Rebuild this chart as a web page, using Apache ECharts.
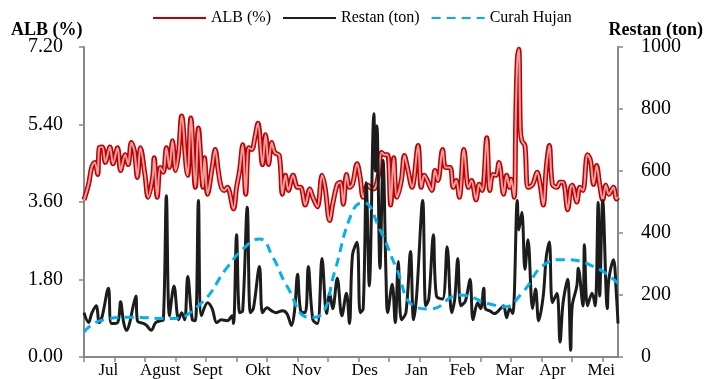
<!DOCTYPE html>
<html><head><meta charset="utf-8">
<script src="https://cdn.jsdelivr.net/npm/echarts@6/dist/echarts.min.js"></script>
<style>html,body{margin:0;padding:0;background:#fff}#c{width:706px;height:379px}</style>
</head><body><div id="c"></div>
<script>
// x = day index (0..350)
const monthLabels = ['Jul','Agust','Sept','Okt','Nov','Des','Jan','Feb','Mar','Apr','Mei'];
const monthLabelDays = [16,50,81,114,146,184,218,248,279,307,339];
const tickDays = [0,20,40,60,80,100,120,140,160,180,200,220,240,260,280,300,320,340];

const albData = [[0,3.65],[3,4.01],[5,4.40],[7,4.52],[9,4.24],[10,4.86],[12,4.88],[14,4.52],[17,4.88],[19,4.49],[22,4.86],[24,4.33],[27,4.70],[29,4.47],[31,4.98],[33,4.79],[35,4.17],[37,4.86],[40,4.22],[42,3.71],[45,4.17],[46,4.63],[48,3.71],[50,4.40],[52,4.29],[54,4.86],[56,4.40],[58,5.02],[60,4.33],[62,4.75],[64,5.60],[67,4.40],[68,4.22],[70,5.55],[73,3.94],[75,5.32],[78,3.94],[79,4.63],[81,3.78],[84,4.40],[86,4.82],[88,4.33],[90,3.94],[92,3.87],[94,3.94],[98,3.44],[100,3.94],[102,4.33],[104,4.93],[106,3.78],[108,4.86],[110,4.82],[112,5.09],[114,5.43],[117,4.47],[119,5.16],[121,4.47],[123,4.98],[125,4.75],[128,4.68],[130,3.78],[132,4.22],[134,3.87],[137,4.22],[140,3.94],[142,3.94],[145,3.53],[148,3.90],[150,3.71],[153,3.49],[156,4.22],[158,3.94],[161,3.17],[163,3.55],[166,4.01],[168,4.06],[170,3.55],[172,4.24],[174,3.94],[176,4.01],[179,4.49],[181,4.17],[183,3.71],[186,3.99],[189,3.90],[191,3.94],[193,4.24],[195,4.75],[197,4.70],[199,4.70],[201,3.53],[203,4.63],[205,3.71],[208,4.10],[210,4.68],[212,4.40],[215,3.94],[219,4.91],[221,3.94],[223,4.22],[225,4.10],[228,3.87],[230,4.33],[232,4.10],[235,4.82],[237,4.40],[240,4.40],[242,3.94],[244,4.10],[246,3.71],[249,4.82],[252,3.94],[254,4.10],[257,3.65],[259,4.01],[261,3.87],[264,5.09],[266,3.87],[268,4.24],[270,4.22],[272,4.52],[275,3.78],[277,4.22],[279,3.94],[280,4.13],[282,3.71],[283,5.6],[284,6.9],[285,7.15],[286,5.3],[287,5.02],[289,4.91],[291,3.94],[294,4.00],[297,4.29],[299,4.00],[301,3.53],[303,4.40],[305,4.91],[307,4.01],[310,3.94],[312,4.06],[314,4.06],[317,3.42],[319,3.94],[320,3.99],[323,3.60],[325,3.94],[327,3.87],[330,4.70],[332,4.56],[334,4.01],[336,4.45],[338,4.00],[340,3.65],[342,3.99],[344,3.78],[347,3.94],[349,3.67],[350,3.71]];

const restanData = [[0,143],[3,111],[5,140],[8,165],[10,111],[12,133],[16,222],[18,108],[22,111],[24,178],[26,111],[28,86],[30,111],[32,159],[34,197],[35,117],[39,108],[41,102],[44,86],[47,111],[50,117],[52,120],[54,520],[56,133],[59,229],[62,120],[64,143],[66,120],[68,260],[71,120],[73,117],[75,505],[77,133],[81,175],[84,156],[87,111],[90,120],[94,117],[97,133],[98,108],[100,394],[102,143],[104,149],[107,483],[109,143],[111,156],[115,292],[117,143],[120,159],[123,149],[126,143],[130,149],[133,140],[136,102],[138,149],[140,267],[142,149],[145,143],[147,292],[150,120],[153,108],[156,318],[159,140],[161,206],[163,156],[166,254],[169,133],[172,206],[174,108],[176,330],[179,370],[181,143],[183,156],[185,562],[187,229],[190,785],[191,600],[192,746],[194,286],[196,635],[198,250],[199,143],[202,235],[204,111],[206,308],[208,120],[211,143],[214,340],[216,120],[218,197],[222,505],[224,165],[226,187],[229,394],[231,197],[235,187],[238,356],[241,143],[243,187],[245,318],[247,165],[250,181],[253,251],[255,120],[258,175],[260,156],[262,222],[263,156],[266,149],[269,140],[273,156],[275,165],[277,127],[279,156],[281,140],[284,505],[285,410],[287,467],[289,283],[291,378],[294,156],[296,219],[298,117],[301,197],[303,324],[305,371],[307,175],[310,206],[312,48],[314,175],[317,251],[319,22],[320,165],[323,229],[324,286],[327,165],[328,362],[330,165],[333,206],[335,165],[337,498],[338,197],[340,505],[343,156],[344,251],[347,314],[349,197],[350,108]];

const rainData = [[0,80],[10,116],[30,128],[56,124],[76,170],[94,290],[105,352],[115,381],[124,320],[133,229],[148,127],[156,140],[164,270],[176,470],[183,498],[194,410],[205,283],[216,165],[227,155],[246,200],[266,171],[276,162],[287,206],[303,302],[314,314],[334,292],[350,238]];

const FONT = 'Liberation Serif';
const chart = echarts.init(document.getElementById('c'), null, {renderer:'canvas'});
chart.setOption({
  animation:false,
  backgroundColor:'#fff',
  textStyle:{fontFamily:FONT,color:'#000'},
  grid:{left:84,right:88,top:47,bottom:17,containLabel:false},
  legend:{
    data:['ALB (%)','Restan (ton)','Curah Hujan'],
    left:152, top:10, padding:0, itemWidth:53, itemHeight:10, itemGap:11,
    itemStyle:{opacity:0},
    textStyle:{fontFamily:FONT,fontSize:16,color:'#000'}
  },
  graphic:[
    {type:'text',left:11,top:21,style:{text:'ALB (%)',font:'bold 18px "Liberation Serif"',fill:'#000'}},
    {type:'text',right:3,top:21,style:{text:'Restan (ton)',font:'bold 18px "Liberation Serif"',fill:'#000'}}
  ],
  xAxis:{
    type:'value',min:0,max:350,
    axisLine:{lineStyle:{color:'#888',width:2}},
    axisTick:{show:true,customValues:tickDays,length:5,lineStyle:{color:'#888',width:1.5}},
    axisLabel:{customValues:monthLabelDays,margin:5,fontFamily:FONT,fontSize:17,color:'#000',
      formatter:function(v){const i=monthLabelDays.indexOf(v);return i>=0?monthLabels[i]:'';}},
    splitLine:{show:false}
  },
  yAxis:[
    {type:'value',min:0,max:7.2,interval:1.8,position:'left',
     axisLine:{show:true,lineStyle:{color:'#888',width:2}},
     axisTick:{show:true,length:5,lineStyle:{color:'#888',width:1.5}},
     axisLabel:{margin:21,fontFamily:FONT,fontSize:20,color:'#000',formatter:function(v){return v.toFixed(2);}},
     splitLine:{show:false}},
    {type:'value',min:0,max:1000,interval:200,position:'right',
     axisLine:{show:true,lineStyle:{color:'#888',width:2}},
     axisTick:{show:true,length:5,lineStyle:{color:'#888',width:1.5}},
     axisLabel:{margin:23,fontFamily:FONT,fontSize:20,color:'#000',formatter:function(v){return String(v);}},
     splitLine:{show:false}}
  ],
  series:[
    {name:'ALB (%)',type:'line',yAxisIndex:0,data:albData,smooth:0.35,symbol:'none',
     lineStyle:{color:'#c00000',width:5},itemStyle:{color:'#c00000'},z:2},
    {name:'ALB inner',type:'line',yAxisIndex:0,data:albData,smooth:0.35,symbol:'none',
     lineStyle:{color:'#eea0a0',width:2},itemStyle:{color:'#eea0a0'},z:3,silent:true},
    {name:'Restan (ton)',type:'line',yAxisIndex:1,data:restanData,smooth:0.35,symbol:'none',
     lineStyle:{color:'#1c1c1c',width:3},itemStyle:{color:'#1c1c1c'},z:4},
    {name:'Curah Hujan',type:'line',yAxisIndex:1,data:rainData,smooth:0.5,symbol:'none',
     lineStyle:{color:'#00b0f0',width:3,type:[9,6]},itemStyle:{color:'#00b0f0'},z:5}
  ]
});
</script></body></html>
